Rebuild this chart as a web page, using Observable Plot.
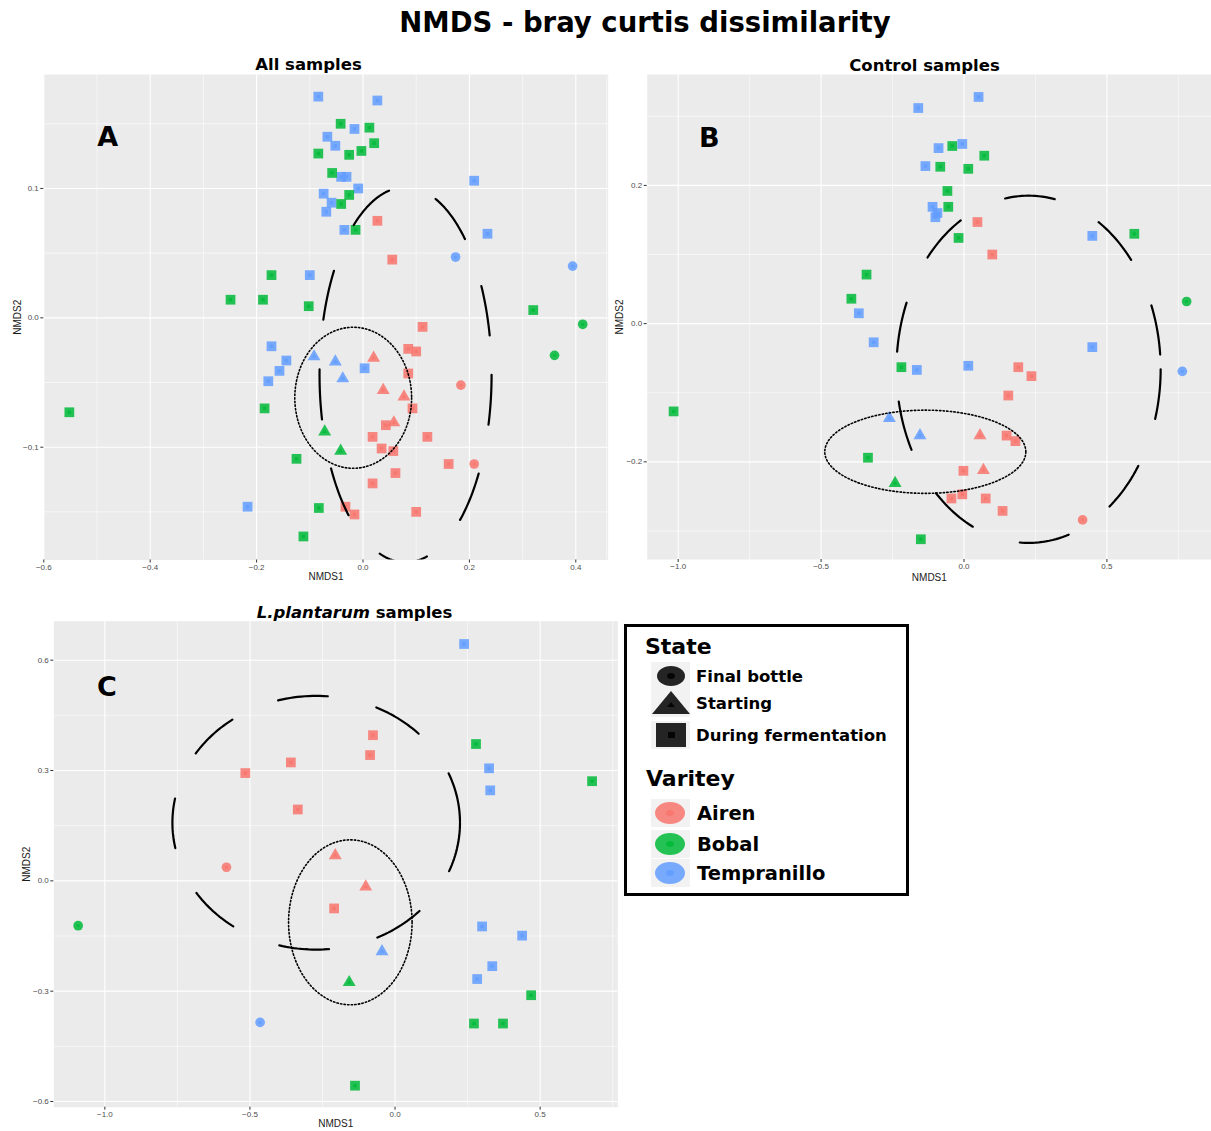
<!DOCTYPE html>
<html>
<head>
<meta charset="utf-8">
<script src="https://cdn.jsdelivr.net/npm/d3@7"></script>
<script src="https://cdn.jsdelivr.net/npm/@observablehq/plot@0.6"></script>
<style>
  body { margin: 0; background: #fff; }
  #page { position: relative; width: 1211px; height: 1131px; overflow: hidden; background: #fff; }
  .ttl { position: absolute; transform: translate(-50%, -50%); white-space: nowrap; font-family: "DejaVu Sans", sans-serif; font-weight: bold; color: #000; }
  .panel { position: absolute; }
  #legend { position: absolute; left: 624px; top: 624px; width: 285px; height: 272px; box-sizing: border-box; border: 3px solid #000; background: #fff; }
</style>
</head>
<body>
<div id="page"></div>
<script>
// Categories and styles of the two groupings
const varieties = ["Airen", "Bobal", "Tempranillo"];
const varietyColors = ["#F8766D", "#00BA38", "#619CFF"];
const states = ["Final bottle", "Starting", "During fermentation"];
const stateSymbols = ["circle", "triangle", "square"];

// ---- All samples: NMDS1 / NMDS2 scores ----
const allAirenDuring = [[0.027,0.075],[0.055,0.045],[0.112,-0.007],[0.085,-0.024],[0.100,-0.026],[0.085,-0.043],[0.093,-0.070],[0.043,-0.083],[0.018,-0.092],[0.121,-0.092],[0.035,-0.101],[0.057,-0.103],[0.161,-0.113],[0.061,-0.120],[0.018,-0.128],[-0.033,-0.146],[-0.016,-0.152],[0.100,-0.150]];
const allAirenFinal = [[0.184,-0.052],[0.209,-0.113]];
const allAirenStart = [[0.020,-0.031],[0.038,-0.056],[0.077,-0.061],[0.058,-0.081]];
const allBobalDuring = [[-0.042,0.150],[0.012,0.147],[-0.084,0.127],[-0.026,0.126],[-0.003,0.129],[0.021,0.135],[-0.058,0.112],[-0.026,0.095],[-0.041,0.088],[-0.014,0.068],[-0.172,0.033],[-0.249,0.014],[-0.188,0.014],[-0.102,0.009],[0.320,0.006],[-0.552,-0.073],[-0.185,-0.070],[-0.125,-0.109],[-0.083,-0.147],[-0.112,-0.169]];
const allBobalFinal = [[0.413,-0.005],[0.360,-0.029]];
const allBobalStart = [[-0.072,-0.088],[-0.042,-0.103]];
const allTempranilloDuring = [[-0.084,0.171],[0.027,0.168],[-0.016,0.146],[-0.067,0.140],[-0.052,0.133],[-0.041,0.109],[-0.031,0.109],[-0.009,0.100],[-0.074,0.096],[-0.059,0.089],[-0.069,0.082],[-0.035,0.068],[0.209,0.106],[0.234,0.065],[-0.100,0.033],[-0.172,-0.022],[-0.144,-0.033],[-0.157,-0.041],[-0.178,-0.049],[0.003,-0.039],[-0.217,-0.146]];
const allTempranilloFinal = [[0.174,0.047],[0.394,0.040]];
const allTempranilloStart = [[-0.092,-0.030],[-0.052,-0.034],[-0.038,-0.047]];
// ellipses: centre x, centre y, semi-axis x, semi-axis y
const allWideEllipse = [0.080, -0.044, 0.1617, 0.145];
const allStartEllipse = [-0.0184, -0.0618, 0.1098, 0.0545];

// ---- Control samples ----
const controlAirenDuring = [[0.047,0.147],[0.099,0.100],[0.190,-0.063],[0.236,-0.076],[0.155,-0.104],[0.149,-0.162],[0.180,-0.170],[-0.002,-0.213],[-0.006,-0.247],[-0.044,-0.253],[0.076,-0.253],[0.135,-0.271]];
const controlAirenFinal = [[0.415,-0.284]];
const controlAirenStart = [[0.056,-0.162],[0.068,-0.212]];
const controlBobalDuring = [[-0.041,0.257],[0.071,0.243],[-0.083,0.227],[0.015,0.224],[-0.058,0.192],[-0.055,0.169],[-0.019,0.124],[0.596,0.130],[-0.341,0.071],[-0.394,0.036],[-0.219,-0.063],[-1.016,-0.127],[-0.336,-0.194],[-0.151,-0.312]];
const controlBobalFinal = [[0.779,0.032]];
const controlBobalStart = [[-0.241,-0.231]];
const controlTempranilloDuring = [[-0.160,0.312],[0.051,0.328],[-0.089,0.254],[-0.006,0.260],[-0.135,0.228],[-0.110,0.169],[-0.093,0.160],[-0.100,0.154],[0.449,0.127],[-0.368,0.015],[-0.316,-0.027],[-0.165,-0.067],[0.015,-0.061],[0.449,-0.034]];
const controlTempranilloFinal = [[0.764,-0.069]];
const controlTempranilloStart = [[-0.261,-0.137],[-0.154,-0.162]];
const controlWideEllipse = [0.2259, -0.0661, 0.4622, 0.2512];
const controlStartEllipse = [-0.1353, -0.1854, 0.3517, 0.0602];

// ---- L. plantarum samples ----
const plantarumAirenDuring = [[-0.516,0.293],[-0.359,0.322],[-0.335,0.194],[-0.076,0.396],[-0.086,0.342],[-0.210,-0.075]];
const plantarumAirenFinal = [[-0.581,0.037]];
const plantarumAirenStart = [[-0.206,0.069],[-0.101,-0.016]];
const plantarumBobalDuring = [[0.279,0.372],[0.679,0.271],[0.469,-0.311],[0.272,-0.388],[0.372,-0.388],[-0.138,-0.557]];
const plantarumBobalFinal = [[-1.092,-0.122]];
const plantarumBobalStart = [[-0.158,-0.276]];
const plantarumTempranilloDuring = [[0.238,0.644],[0.324,0.306],[0.328,0.246],[0.300,-0.124],[0.438,-0.149],[0.335,-0.232],[0.283,-0.267]];
const plantarumTempranilloFinal = [[-0.465,-0.385]];
const plantarumTempranilloStart = [[-0.045,-0.192]];
const plantarumWideEllipse = [-0.2717, 0.158, 0.4955, 0.3450];
const plantarumStartEllipse = [-0.1541, -0.1128, 0.2128, 0.2243];

// ---- axis ticks ----
const allTicksX = [-0.6, -0.4, -0.2, 0, 0.2, 0.4];
const allTicksY = [-0.1, 0, 0.1];
const controlTicksX = [-1.0, -0.5, 0, 0.5];
const controlTicksY = [-0.2, 0, 0.2];
const plantarumTicksX = [-1.0, -0.5, 0, 0.5];
const plantarumTicksY = [-0.6, -0.3, 0, 0.3, 0.6];

const page = document.getElementById("page");

function rowsOf(groups) {
  return groups.flatMap(([pts, variety, state]) => pts.map(([x, y]) => ({x, y, variety, state})));
}

// midpoints between major ticks (plus one beyond each end) for the minor grid
function minorOf(ticks) {
  const step = ticks[1] - ticks[0];
  const out = [ticks[0] - step / 2];
  for (let i = 0; i < ticks.length; i++) out.push(ticks[i] + step / 2);
  return out;
}

// closed outline of an axis-aligned ellipse, starting at its right end
function ellipseOutline([cx, cy, rx, ry], n = 240) {
  return d3.range(n + 1).map(i => {
    const t = 2 * Math.PI * i / n;
    return {x: cx + rx * Math.cos(t), y: cy - ry * Math.sin(t)};
  });
}

const fmt = d => (d < 0 ? "\u2212" : "") + Math.abs(d).toFixed(1);

function drawPanel(o) {
  const outerR = [4.85, 4.8, 5.5];
  const innerR = [1.6, 1.7, 1.9];
  const marks = [
    Plot.frame({fill: "#ebebeb", stroke: "none"}),
    Plot.ruleX(minorOf(o.xTicks), {stroke: "#fff", strokeWidth: 0.55}),
    Plot.ruleY(minorOf(o.yTicks), {stroke: "#fff", strokeWidth: 0.55}),
    Plot.ruleX(o.xTicks, {stroke: "#fff", strokeWidth: 1.1}),
    Plot.ruleY(o.yTicks, {stroke: "#fff", strokeWidth: 1.1}),
    Plot.axisX({ticks: o.xTicks, tickSize: 3, tickPadding: 1, tickFormat: fmt, fontSize: 8, stroke: "#333", fill: "#4d4d4d", label: null}),
    Plot.axisY({ticks: o.yTicks, tickSize: 3, tickPadding: 2, tickFormat: fmt, fontSize: 8, stroke: "#333", fill: "#4d4d4d", label: null})
  ];
  states.forEach((s, i) => {
    const sub = o.rows.filter(d => d.state === s);
    marks.push(Plot.dot(sub, {x: "x", y: "y", symbol: stateSymbols[i], r: outerR[i], fill: "variety", fillOpacity: 0.85, stroke: "none"}));
    marks.push(Plot.dot(sub, {x: "x", y: "y", symbol: stateSymbols[i], r: innerR[i], fill: "variety", fillOpacity: 0.85, stroke: "none"}));
  });
  marks.push(Plot.line(ellipseOutline(o.wide), {x: "x", y: "y", stroke: "#000", strokeWidth: 2.2, strokeDasharray: "50,50", clip: true}));
  marks.push(Plot.line(ellipseOutline(o.start), {x: "x", y: "y", stroke: "#000", strokeWidth: 1.6, strokeDasharray: "1.4,2.2", clip: true}));
  marks.push(Plot.text([o.letter], {text: d => d, frameAnchor: "top-left", dx: o.letterDx, dy: o.letterDy, textAnchor: "middle", lineAnchor: "middle", fontSize: 27, fontWeight: "bold", fontFamily: "DejaVu Sans", fill: "#000"}));
  marks.push(Plot.text(["NMDS1"], {text: d => d, frameAnchor: "bottom", dy: o.xLabelDy, lineAnchor: "middle", fontSize: 10, fill: "#1a1a1a"}));
  marks.push(Plot.text(["NMDS2"], {text: d => d, frameAnchor: "left", dx: o.yLabelDx, rotate: -90, textAnchor: "middle", lineAnchor: "middle", fontSize: 10, fill: "#1a1a1a"}));

  const svg = Plot.plot({
    width: o.width, height: o.height,
    marginLeft: o.ml, marginRight: o.mr, marginTop: o.mt, marginBottom: o.mb,
    x: {domain: o.xDomain},
    y: {domain: o.yDomain},
    color: {domain: varieties, range: varietyColors},
    style: {background: "transparent", fontFamily: "'Liberation Sans', Arial, sans-serif", overflow: "visible"},
    marks
  });
  svg.classList.add("panel");
  svg.style.left = o.left + "px";
  svg.style.top = o.top + "px";
  page.appendChild(svg);
}

function title(html, cx, cy, size) {
  const d = document.createElement("div");
  d.className = "ttl";
  d.innerHTML = html;
  d.style.left = cx + "px";
  d.style.top = cy + "px";
  d.style.fontSize = size + "px";
  page.appendChild(d);
}

title("NMDS - bray curtis dissimilarity", 645, 22, 27.5);
title("All samples", 308.5, 64, 16.5);
title("Control samples", 924.5, 65, 16.5);
title("<i>L.plantarum</i> samples", 354.5, 612, 16.5);

drawPanel({
  rows: rowsOf([
    [allTempranilloDuring, "Tempranillo", "During fermentation"], [allBobalDuring, "Bobal", "During fermentation"], [allAirenDuring, "Airen", "During fermentation"],
    [allTempranilloFinal, "Tempranillo", "Final bottle"], [allBobalFinal, "Bobal", "Final bottle"], [allAirenFinal, "Airen", "Final bottle"],
    [allTempranilloStart, "Tempranillo", "Starting"], [allBobalStart, "Bobal", "Starting"], [allAirenStart, "Airen", "Starting"]
  ]),
  wide: allWideEllipse, start: allStartEllipse,
  xTicks: allTicksX, yTicks: allTicksY,
  xDomain: [-0.6, 0.4609], yDomain: [-0.1872, 0.1881],
  left: 0, top: 70, width: 612, height: 520, ml: 43.3, mr: 4.3, mt: 4, mb: 30.5,
  letter: "A", letterDx: 64, letterDy: 63, xLabelDy: 17, yLabelDx: -26
});

drawPanel({
  rows: rowsOf([
    [controlTempranilloDuring, "Tempranillo", "During fermentation"], [controlBobalDuring, "Bobal", "During fermentation"], [controlAirenDuring, "Airen", "During fermentation"],
    [controlTempranilloFinal, "Tempranillo", "Final bottle"], [controlBobalFinal, "Bobal", "Final bottle"], [controlAirenFinal, "Airen", "Final bottle"],
    [controlTempranilloStart, "Tempranillo", "Starting"], [controlBobalStart, "Bobal", "Starting"], [controlAirenStart, "Airen", "Starting"]
  ]),
  wide: controlWideEllipse, start: controlStartEllipse,
  xTicks: controlTicksX, yTicks: controlTicksY,
  xDomain: [-1.1084, 0.866], yDomain: [-0.3413, 0.3605],
  left: 612, top: 70, width: 599, height: 520, ml: 34.7, mr: 0, mt: 4, mb: 31,
  letter: "B", letterDx: 62, letterDy: 64, xLabelDy: 18, yLabelDx: -27
});

drawPanel({
  rows: rowsOf([
    [plantarumTempranilloDuring, "Tempranillo", "During fermentation"], [plantarumBobalDuring, "Bobal", "During fermentation"], [plantarumAirenDuring, "Airen", "During fermentation"],
    [plantarumTempranilloFinal, "Tempranillo", "Final bottle"], [plantarumBobalFinal, "Bobal", "Final bottle"], [plantarumAirenFinal, "Airen", "Final bottle"],
    [plantarumTempranilloStart, "Tempranillo", "Starting"], [plantarumBobalStart, "Bobal", "Starting"], [plantarumAirenStart, "Airen", "Starting"]
  ]),
  wide: plantarumWideEllipse, start: plantarumStartEllipse,
  xTicks: plantarumTicksX, yTicks: plantarumTicksY,
  xDomain: [-1.1759, 0.7676], yDomain: [-0.6155, 0.706],
  left: 0, top: 600, width: 625, height: 531, ml: 53.3, mr: 7.7, mt: 20.7, mb: 24.3,
  letter: "C", letterDx: 53, letterDy: 66, xLabelDy: 16.5, yLabelDx: -27
});

// ---- legend: shape by state, colour by variety ----
const legend = document.createElement("div");
legend.id = "legend";
page.appendChild(legend);
const lg = d3.select(legend).append("svg").attr("width", 279).attr("height", 266)
  .style("font-family", "'DejaVu Sans', sans-serif").style("font-weight", "bold");

lg.append("text").attr("x", 18).attr("y", 19).attr("dominant-baseline", "central").attr("font-size", 22).text("State");
const stateRows = [49, 76, 108];
states.forEach((s, i) => {
  const cy = stateRows[i];
  lg.append("rect").attr("x", 24).attr("y", cy - 14).attr("width", 39).attr("height", 28).attr("fill", "#f2f2f2");
  const g = lg.append("g").attr("fill", "#000").attr("fill-opacity", 0.85);
  const sym = stateSymbols[i];
  if (sym === "circle") {
    g.append("ellipse").attr("cx", 44).attr("cy", cy).attr("rx", 14).attr("ry", 10);
    g.append("ellipse").attr("cx", 44).attr("cy", cy).attr("rx", 4).attr("ry", 3);
  } else if (sym === "triangle") {
    g.append("polygon").attr("points", `25,${cy + 11} 63,${cy + 11} 44,${cy - 12}`);
    g.append("polygon").attr("points", `40,${cy + 4} 48,${cy + 4} 44,${cy - 1}`);
  } else {
    g.append("rect").attr("x", 29).attr("y", cy - 12).attr("width", 30).attr("height", 24);
    g.append("rect").attr("x", 41).attr("y", cy - 3).attr("width", 7).attr("height", 6);
  }
  lg.append("text").attr("x", 69).attr("y", cy).attr("dominant-baseline", "central").attr("font-size", 16.5).text(s);
});

lg.append("text").attr("x", 19).attr("y", 151).attr("dominant-baseline", "central").attr("font-size", 22).text("Varitey");
const varietyRows = [186, 217, 246];
varieties.forEach((v, i) => {
  const cy = varietyRows[i];
  lg.append("rect").attr("x", 24).attr("y", cy - 14).attr("width", 39).attr("height", 28).attr("fill", "#f2f2f2");
  const g = lg.append("g").attr("fill", varietyColors[i]).attr("fill-opacity", 0.85);
  g.append("ellipse").attr("cx", 43).attr("cy", cy).attr("rx", 15).attr("ry", 11);
  g.append("ellipse").attr("cx", 43).attr("cy", cy).attr("rx", 4).attr("ry", 3);
  lg.append("text").attr("x", 70).attr("y", cy).attr("dominant-baseline", "central").attr("font-size", 19.5).text(v);
});
</script>
</body>
</html>
